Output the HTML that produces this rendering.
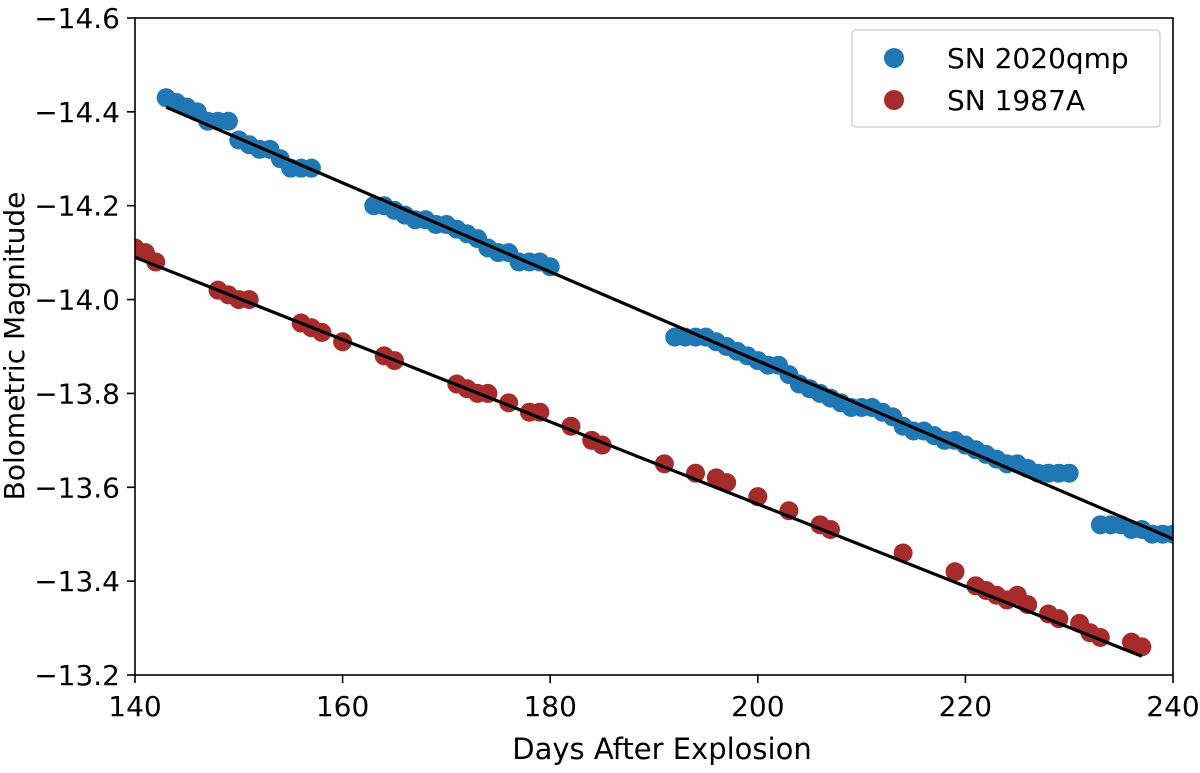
<!DOCTYPE html>
<html><head><meta charset="utf-8"><style>
body{margin:0;background:#fff}
svg text{font-family:"DejaVu Sans","Liberation Sans",sans-serif;fill:#000}
</style></head><body>
<svg id="chart" width="1200" height="768">
<defs><clipPath id="clip"><rect x="135" y="18" width="1038" height="657"/></clipPath></defs>
<g id="plot" clip-path="url(#clip)"></g>
<rect x="135" y="18" width="1038" height="657" fill="none" stroke="#000" stroke-width="1.6"/>
<g id="axes"></g>
<text x="662" y="759" font-size="29" text-anchor="middle">Days After Explosion</text>
<text transform="translate(24,346) rotate(-90)" font-size="28" text-anchor="middle">Bolometric Magnitude</text>
<g>
<rect x="852" y="30" width="308" height="97" rx="4" fill="#fff" stroke="#ccc" stroke-width="1.2"/>
<circle cx="894" cy="58" r="10" fill="#1f77b4"/>
<text x="947" y="68" font-size="28">SN 2020qmp</text>
<circle cx="894" cy="100" r="10" fill="#a62b2b"/>
<text x="947" y="110" font-size="28">SN 1987A</text>
</g>
</svg>
<script>
const blueDays=[143,144,145,146,147,148,149,150,151,152,153,154,155,156,157,163,164,165,166,167,168,169,170,171,172,173,174,175,176,177,178,179,180,192,193,194,195,196,197,198,199,200,201,202,203,204,205,206,207,208,209,210,211,212,213,214,215,216,217,218,219,220,221,222,223,224,225,226,227,228,229,230,233,234,235,236,237,238,239,240];
const blueMag=[-14.43,-14.42,-14.41,-14.40,-14.38,-14.38,-14.38,-14.34,-14.33,-14.32,-14.32,-14.30,-14.28,-14.28,-14.28,-14.20,-14.20,-14.19,-14.18,-14.17,-14.17,-14.16,-14.16,-14.15,-14.14,-14.13,-14.11,-14.10,-14.10,-14.08,-14.08,-14.08,-14.07,-13.92,-13.92,-13.92,-13.92,-13.91,-13.90,-13.89,-13.88,-13.87,-13.86,-13.86,-13.84,-13.82,-13.81,-13.80,-13.79,-13.78,-13.77,-13.77,-13.77,-13.76,-13.75,-13.73,-13.72,-13.72,-13.71,-13.70,-13.70,-13.69,-13.68,-13.67,-13.66,-13.65,-13.65,-13.64,-13.63,-13.63,-13.63,-13.63,-13.52,-13.52,-13.52,-13.51,-13.51,-13.50,-13.50,-13.50];
const redDays=[140,141,142,148,149,150,151,156,157,158,160,164,165,171,172,173,174,176,178,179,182,184,185,191,194,196,197,200,203,206,207,214,219,221,222,223,224,225,226,228,229,231,232,233,236,237];
const redMag=[-14.11,-14.10,-14.08,-14.02,-14.01,-14.00,-14.00,-13.95,-13.94,-13.93,-13.91,-13.88,-13.87,-13.82,-13.81,-13.80,-13.80,-13.78,-13.76,-13.76,-13.73,-13.70,-13.69,-13.65,-13.63,-13.62,-13.61,-13.58,-13.55,-13.52,-13.51,-13.46,-13.42,-13.39,-13.38,-13.37,-13.36,-13.37,-13.35,-13.33,-13.32,-13.31,-13.29,-13.28,-13.27,-13.26];
const blueFit=[[143,-14.41],[240,-13.49]];
const redFit=[[140,-14.09],[237,-13.24]];
const xTicks=[140,160,180,200,220,240];
const yTicks=[-14.6,-14.4,-14.2,-14.0,-13.8,-13.6,-13.4,-13.2];
const X=d=>135+(d-140)/100*1038;
const Y=v=>18+(v+14.6)/1.4*657;
const NS="http://www.w3.org/2000/svg";
const plot=document.getElementById('plot'),axes=document.getElementById('axes');
function mk(t,a,p){const e=document.createElementNS(NS,t);for(const k in a)e.setAttribute(k,a[k]);p.appendChild(e);return e;}
function pts(days,mags,col,nm){for(let i=0;i<days.length;i++){const c=mk('circle',{cx:X(days[i]),cy:Y(mags[i]),r:9.5,fill:col},plot);

}}
pts(blueDays,blueMag,'#1f77b4','point-2020qmp');
pts(redDays,redMag,'#a62b2b','point-1987a');
function fit(f,nm){const l=mk('line',{x1:X(f[0][0]),y1:Y(f[0][1]),x2:X(f[1][0]),y2:Y(f[1][1]),stroke:'#000','stroke-width':3.2},plot);

}
fit(blueFit,'fit-line-2020qmp');
fit(redFit,'fit-line-1987a');
xTicks.forEach(t=>{mk('line',{x1:X(t),x2:X(t),y1:675,y2:683,stroke:'#000','stroke-width':1.6},axes);
const tx=mk('text',{x:X(t),y:716,'font-size':28,'text-anchor':'middle'},axes);tx.textContent=t;

});
yTicks.forEach(t=>{mk('line',{x1:127,x2:135,y1:Y(t),y2:Y(t),stroke:'#000','stroke-width':1.6},axes);
const tx=mk('text',{x:120,y:Y(t)+10,'font-size':28,'text-anchor':'end'},axes);tx.textContent='\u2212'+Math.abs(t).toFixed(1);

});
</script>
</body></html>
